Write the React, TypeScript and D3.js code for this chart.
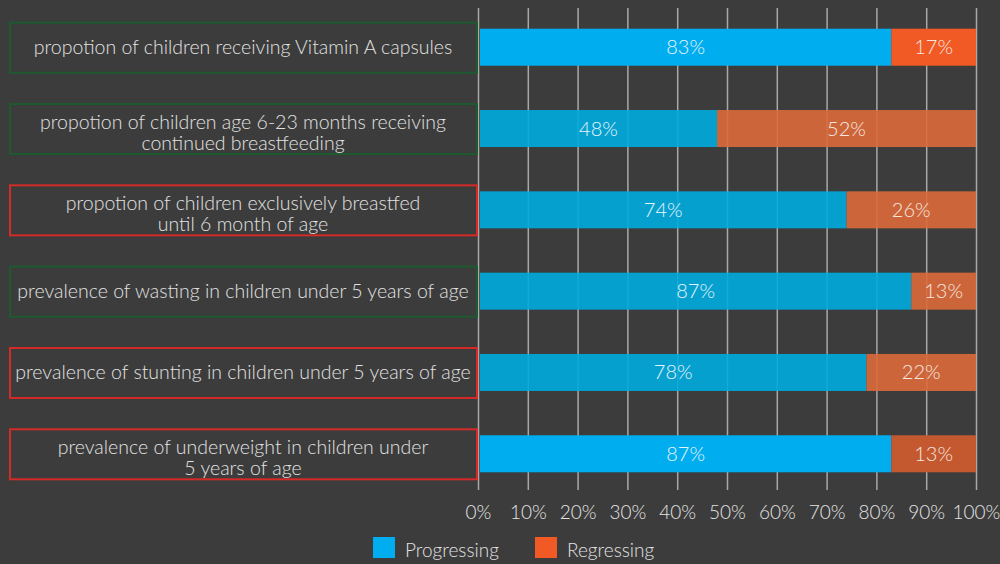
import React, { useEffect, useRef } from "react";
import * as d3 from "d3";

// indicator labels (split into lines as in the picture)
const categories = [
  ["propotion of children receiving Vitamin A capsules"],
  ["propotion of children age 6-23 months receiving", "continued breastfeeding"],
  ["propotion of children exclusively breastfed", "until 6 month of age"],
  ["prevalence of wasting in children under 5 years of age"],
  ["prevalence of stunting in children under 5 years of age"],
  ["prevalence of underweight in children under", "5 years of age"],
];
// green = on track, red = off track (box outline)
const status = ["good", "good", "bad", "good", "bad", "bad"];

// bar lengths as drawn
const progressing = [83, 48, 74, 87, 78, 83];
const regressing = [17, 52, 26, 13, 22, 17];
// values printed on the bars
const progressingLabels = [83, 48, 74, 87, 78, 87];
const regressingLabels = [17, 52, 26, 13, 22, 13];

const tickValues = [0, 10, 20, 30, 40, 50, 60, 70, 80, 90, 100];
const seriesNames = ["Progressing", "Regressing"];

const width = 1000;
const height = 564;
const bg = "#3c3c3c";
const font = "Lato, 'Open Sans', sans-serif";

// per-bar look: first and last bar are solid, the middle ones let the grid through
const barLook = [
  { blue: "#00aeef", orange: "#f15a24", opacity: 1 },
  { blue: "#00abdf", orange: "#db6a3a", opacity: 0.9 },
  { blue: "#00abdf", orange: "#db6a3a", opacity: 0.9 },
  { blue: "#00abdf", orange: "#db6a3a", opacity: 0.9 },
  { blue: "#00abdf", orange: "#db6a3a", opacity: 0.9 },
  { blue: "#00aeef", orange: "#c4592f", opacity: 1 },
];

const App = () => {
  const axisRef = useRef(null);

  const x = d3.scaleLinear().domain([0, 100]).range([478, 976]);
  const y = d3
    .scaleBand()
    .domain(categories.map((_, i) => String(i)))
    .range([7, 494])
    .paddingInner(0.545)
    .paddingOuter(0.267);

  const gridTop = 8;
  const gridBottom = 490;

  useEffect(() => {
    const g = d3.select(axisRef.current);
    g.selectAll("*").remove();
    g.attr("transform", `translate(0,${gridBottom})`)
      .call(
        d3
          .axisBottom(x)
          .tickValues(tickValues)
          .tickSize(-(gridBottom - gridTop))
          .tickFormat((d) => `${d}%`)
      )
      .call((g) => g.select(".domain").remove())
      .call((g) =>
        g.selectAll(".tick line").attr("stroke", "#a8a8a8").attr("stroke-width", 1.5)
      )
      .call((g) =>
        g
          .selectAll(".tick text")
          .attr("fill", "#e4e4e4")
          .attr("y", 29)
          .attr("dy", 0)
          .style("font-family", font)
          .style("font-weight", 300)
          .style("font-size", "19px")
      );
  }, []);

  const bh = y.bandwidth();

  return (
    <svg
      width={width}
      height={height}
      style={{ position: "absolute", left: 0, top: 0, display: "block" }}
    >
      <rect width={width} height={height} fill={bg} />
      <g ref={axisRef}></g>

      {categories.map((lines, i) => {
        const yc = y(String(i)) + bh / 2;
        const look = barLook[i];
        const x0 = x(0) + 2;
        const x1 = x(progressing[i]);
        const x2 = x(progressing[i] + regressing[i]);
        return (
          <g key={i}>
            <rect
              x={10}
              y={yc - 24.5}
              width={467}
              height={50}
              fill="none"
              stroke={status[i] === "good" ? "#1e5a30" : "#d42a28"}
              strokeWidth={2}
            />
            {lines.map((t, j) => (
              <text
                key={j}
                x={243}
                y={lines.length === 1 ? yc + 6.5 : yc + 0.5 + j * 21}
                textAnchor="middle"
                fill="#e2e2e2"
                fontFamily={font}
                fontWeight={300}
                fontSize={19.5}
              >
                {t}
              </text>
            ))}
            <rect x={x0} y={y(String(i))} width={x1 - x0} height={bh} fill={look.blue} fillOpacity={look.opacity} />
            <rect x={x1} y={y(String(i))} width={x2 - x1} height={bh} fill={look.orange} fillOpacity={look.opacity} />
            <text
              x={(x0 + x1) / 2}
              y={yc + 7}
              textAnchor="middle"
              fill="#e6f4fa"
              fontFamily={font}
              fontWeight={300}
              fontSize={20}
            >
              {progressingLabels[i]}%
            </text>
            <text
              x={(x1 + x2) / 2}
              y={yc + 7}
              textAnchor="middle"
              fill="#f6e6e0"
              fontFamily={font}
              fontWeight={300}
              fontSize={20}
            >
              {regressingLabels[i]}%
            </text>
          </g>
        );
      })}

      {seriesNames.map((name, i) => {
        const lx = i === 0 ? 373 : 535;
        return (
          <g key={name} transform={`translate(${lx},537)`}>
            <rect width={22} height={21} fill={i === 0 ? "#00aeef" : "#f15a24"} />
            <text x={32} y={20} fill="#e2e2e2" fontFamily={font} fontWeight={300} fontSize={19}>
              {name}
            </text>
          </g>
        );
      })}
    </svg>
  );
};

export default App;
